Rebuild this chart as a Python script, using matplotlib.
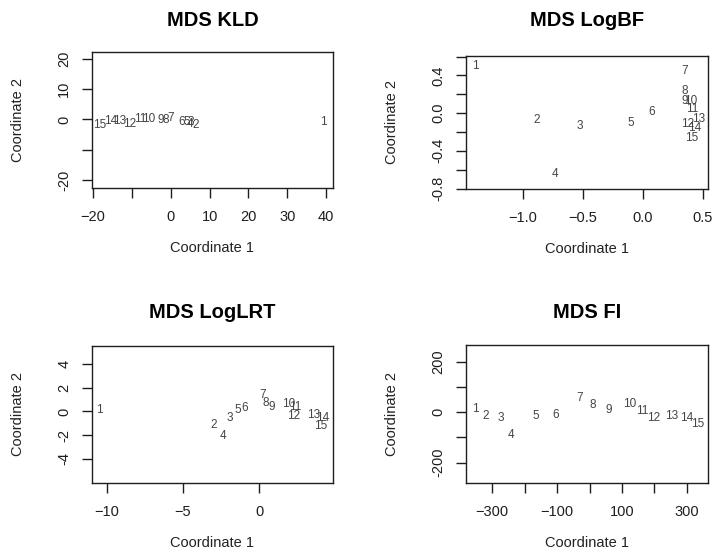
import matplotlib
matplotlib.use('Agg')
import matplotlib.pyplot as plt

plt.rcParams['font.family'] = ['Liberation Sans', 'DejaVu Sans']

point_ids = [str(i) for i in range(1, 16)]

# MDS coordinates
kld_x = [39.4, 6.5, 5.2, 5.0, 4.1, 2.9, 0.0, -1.2, -2.7, -5.7, -7.9, -10.6, -13.2, -15.6, -18.2]
kld_y = [-0.9, -1.7, -0.7, -1.4, -0.9, -0.7, 0.4, -0.3, -0.3, 0.2, 0.2, -1.4, -0.6, -0.6, -2.0]

logbf_x = [-1.40, -0.89, -0.53, -0.73, -0.10, 0.07, 0.35, 0.35, 0.35, 0.40, 0.41, 0.37, 0.46, 0.43, 0.41]
logbf_y = [0.506, -0.068, -0.137, -0.643, -0.109, 0.01, 0.444, 0.239, 0.13, 0.13, 0.041, -0.12, -0.058, -0.154, -0.26]

loglrt_x = [-10.48, -3.01, -1.92, -2.40, -1.38, -0.94, 0.20, 0.44, 0.85, 1.97, 2.40, 2.27, 3.58, 4.15, 4.04]
loglrt_y = [0.14, -1.13, -0.56, -2.06, 0.11, 0.28, 1.38, 0.70, 0.42, 0.62, 0.34, -0.42, -0.31, -0.59, -1.21]

fi_x = [-353, -319, -275, -242, -167, -105, -32, 11, 60, 125, 161, 197, 254, 300, 334]
fi_y = [13, -13, -23, -90, -13, -9, 58, 27, 7, 31, 4, -22, -13, -22, -46]

M = '\u2212'
panels = [
    dict(title='MDS KLD', x=kld_x, y=kld_y,
         xlim=(-20.3, 41.8), ylim=(-22.6, 22.2),
         xticks=[-20, -10, 0, 10, 20, 30, 40], xlabels=[M + '20', '', '0', '10', '20', '30', '40'],
         yticks=[-20, -10, 0, 10, 20], ylabels=['-20', '', '0', '10', '20'],
         pos=[92, 52, 333, 188], title_gap=32),
    dict(title='MDS LogBF', x=logbf_x, y=logbf_y,
         xlim=(-1.475, 0.542), ylim=(-0.805, 0.607),
         xticks=[-1.0, -0.5, 0.0, 0.5], xlabels=[M + '1.0', M + '0.5', '0.0', '0.5'],
         yticks=[-0.8, -0.6, -0.4, -0.2, 0.0, 0.2, 0.4, 0.6],
         ylabels=['-0.8', '', '-0.4', '', '0.0', '', '0.4', ''],
         pos=[466, 56, 708, 189], title_gap=36),
    dict(title='MDS LogLRT', x=loglrt_x, y=loglrt_y,
         xlim=(-10.98, 4.85), ylim=(-6.06, 5.55),
         xticks=[-10, -5, 0], xlabels=[M + '10', M + '5', '0'],
         yticks=[-4, -2, 0, 2, 4], ylabels=['-4', '-2', '0', '2', '4'],
         pos=[92, 346, 333, 483], title_gap=33),
    dict(title='MDS FI', x=fi_x, y=fi_y,
         xlim=(-381, 365), ylim=(-281, 267),
         xticks=[-300, -200, -100, 0, 100, 200, 300],
         xlabels=[M + '300', '', M + '100', '', '100', '', '300'],
         yticks=[-200, -100, 0, 100, 200], ylabels=['-200', '', '0', '', '200'],
         pos=[466, 345, 708, 483], title_gap=32),
]

W, H = 716, 553
fig = plt.figure(figsize=(W / 100, H / 100), dpi=100)

for p in panels:
    x0, y0, x1, y1 = p['pos']
    w, h = x1 - x0, y1 - y0
    ax = fig.add_axes([x0 / W, 1 - y1 / H, w / W, h / H])
    for xi, yi, lab in zip(p['x'], p['y'], point_ids):
        ax.text(xi, yi, lab, ha='center', va='center', fontsize=8.5, color='#444444')
    ax.set_xlim(*p['xlim'])
    ax.set_ylim(*p['ylim'])
    ax.set_xticks(p['xticks'])
    ax.set_xticklabels(p['xlabels'])
    ax.set_yticks(p['yticks'])
    ax.set_yticklabels(p['ylabels'], rotation=90, va='center')
    ax.tick_params(direction='out', length=7, width=1.0, labelsize=10.5,
                   colors='#1e1e1e')
    ax.tick_params(axis='x', pad=9)
    ax.tick_params(axis='y', pad=8)
    for s in ax.spines.values():
        s.set_linewidth(1.0)
        s.set_color('#1e1e1e')
    ax.set_xlabel('Coordinate 1', fontsize=10.5, color='#222222')
    ax.xaxis.set_label_coords(0.5, -60 / h)
    ax.xaxis.label.set_va('center')
    ax.set_ylabel('Coordinate 2', fontsize=10.5, color='#222222')
    ax.yaxis.set_label_coords(-74 / w, 0.5)
    ax.yaxis.label.set_va('center')
    ax.set_title(p['title'], fontsize=14.5, fontweight='bold',
                 y=1 + p['title_gap'] / h, va='center', pad=0)

fig.savefig('out.png', dpi=100)
